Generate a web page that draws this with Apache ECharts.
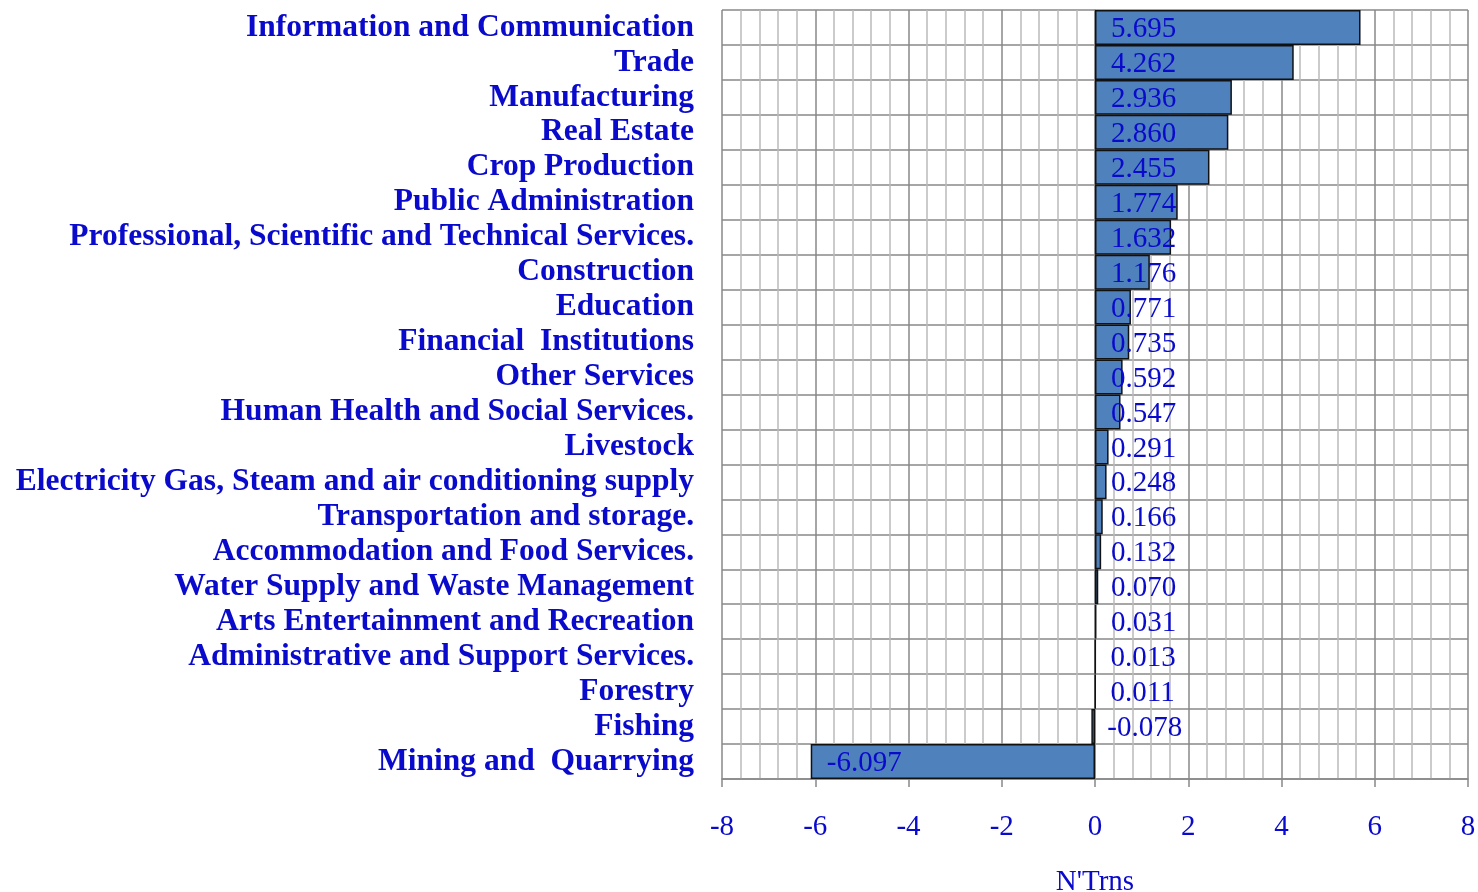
<!DOCTYPE html>
<html>
<head>
<meta charset="utf-8">
<script src="https://cdn.jsdelivr.net/npm/echarts@6/dist/echarts.min.js"></script>
<style>
    html, body { margin: 0; padding: 0; background: #fff; }
    #chart { width: 1478px; height: 892px; }
</style>
</head>
<body>
<div id="chart"></div>
<script>
    // sectors, top to bottom
    var categories = [
        'Information and Communication',
        'Trade',
        'Manufacturing',
        'Real Estate',
        'Crop Production',
        'Public Administration',
        'Professional, Scientific and Technical Services.',
        'Construction',
        'Education',
        'Financial  Institutions',
        'Other Services',
        'Human Health and Social Services.',
        'Livestock',
        'Electricity Gas, Steam and air conditioning supply',
        'Transportation and storage.',
        'Accommodation and Food Services.',
        'Water Supply and Waste Management',
        'Arts Entertainment and Recreation',
        'Administrative and Support Services.',
        'Forestry',
        'Fishing',
        'Mining and  Quarrying'
    ];
    var values = [5.695, 4.262, 2.936, 2.860, 2.455, 1.774, 1.632, 1.176, 0.771, 0.735,
        0.592, 0.547, 0.291, 0.248, 0.166, 0.132, 0.070, 0.031, 0.013, 0.011, -0.078, -6.097];
    var axisName = "N'Trns";

    var blue = '#0a0acc';
    var serif = '"Liberation Serif", "DejaVu Serif", serif';

    var myChart = echarts.init(document.getElementById('chart'));
    var option = {
        animation: false,
        grid: {
            left: 722,
            right: 10,
            top: 10,
            bottom: 113,
            outerBoundsMode: 'none'
        },
        xAxis: {
            type: 'value',
            min: -8,
            max: 8,
            interval: 2,
            name: axisName,
            nameLocation: 'middle',
            nameGap: 89,
            nameTextStyle: { color: blue, fontFamily: serif, fontSize: 29 },
            axisLine: { show: true, onZero: false, lineStyle: { color: '#888', width: 1.5 } },
            axisTick: { show: true, length: 8, lineStyle: { color: '#888', width: 1.5 } },
            axisLabel: { color: blue, fontFamily: serif, fontSize: 29, margin: 34 },
            splitLine: { show: true, lineStyle: { color: '#888', width: 1.5 } },
            minorTick: { show: false, splitNumber: 5 },
            minorSplitLine: { show: true, lineStyle: { color: '#bbb', width: 1.5 } }
        },
        yAxis: {
            type: 'category',
            data: categories,
            inverse: true,
            axisLine: { show: true, lineStyle: { color: '#888', width: 1.5 } },
            axisTick: { show: false, interval: 0 },
            axisLabel: {
                interval: 0,
                hideOverlap: false,
                color: blue,
                fontFamily: serif,
                fontWeight: 'bold',
                fontSize: 31.5,
                margin: 28,
                padding: [5, 0, 0, 0]
            },
            splitLine: { show: true, interval: 0, lineStyle: { color: '#888', width: 1.5 } }
        },
        series: [{
            type: 'bar',
            data: values,
            barWidth: '100%',
            itemStyle: {
                color: '#4f81bd',
                borderColor: '#111',
                borderWidth: 1.5
            },
            label: {
                show: true,
                position: 'insideLeft',
                distance: 16,
                offset: [0, 2],
                color: blue,
                fontFamily: serif,
                fontSize: 29,
                formatter: function (p) { return p.value.toFixed(3); }
            }
        }]
    };
    myChart.setOption(option);
</script>
</body>
</html>
